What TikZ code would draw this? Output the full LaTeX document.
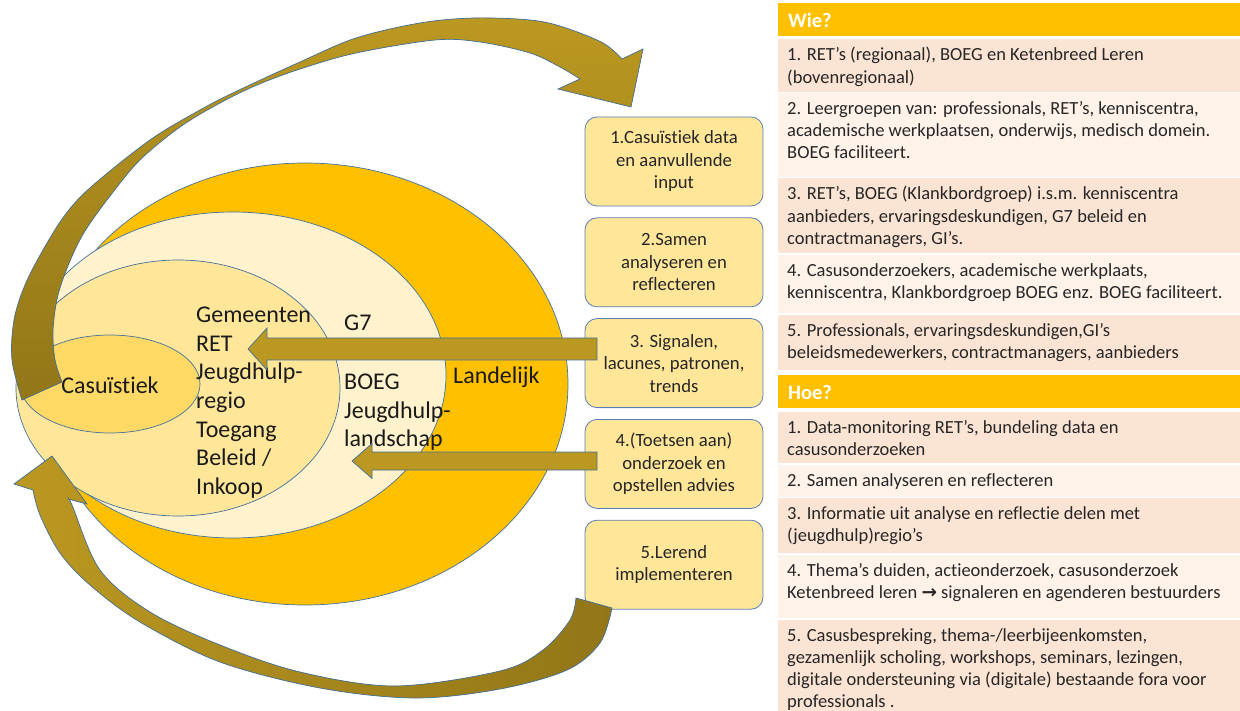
\documentclass[tikz,border=0pt]{standalone}
\usepackage{fontspec}
\setmainfont{Carlito}[Ligatures=NoCommon]
\newfontfamily\symfont{DejaVu Sans}
\usepackage{tikz}
\usetikzlibrary{positioning}

\definecolor{landelijk}{HTML}{FFC000}
\definecolor{boegfill}{HTML}{FFF2CC}
\definecolor{gemfill}{HTML}{FFE699}
\definecolor{casfill}{HTML}{FFD966}
\definecolor{arrowgold}{HTML}{BB9821}
\definecolor{arrowdark}{HTML}{927618}
\definecolor{edgeblue}{HTML}{41719C}
\definecolor{boxblue}{HTML}{5A7DB5}
\definecolor{rowdark}{HTML}{FBE4D3}
\definecolor{rowlight}{HTML}{FEF2E9}
\definecolor{inktext}{HTML}{1A1A1A}
\definecolor{tabletext}{HTML}{262626}

\begin{document}
\begin{tikzpicture}[
          x=1pt, y=-1pt,
          zone/.style={draw=edgeblue, line width=0.7pt},
          blockarrow/.style={draw=edgeblue, line width=0.7pt, fill=arrowgold},
          stepbox/.style={rectangle, rounded corners=12pt, draw=boxblue, line width=0.8pt,
            fill=gemfill, minimum width=178pt, minimum height=89pt, align=center,
            text=tabletext, font=\fontsize{18.7}{22.5}\selectfont},
          zonelabel/.style={inner sep=0pt, align=left, text=inktext, font=\fontsize{24}{28.6}\selectfont},
          rowtext/.style={anchor=north west, inner sep=0pt, align=left, text=tabletext,
            font=\fontsize{18.5}{22.3}\selectfont},
          headtext/.style={anchor=west, inner sep=0pt, text=white, font=\bfseries\fontsize{20.5}{24}\selectfont},
          node distance=11pt
        ]
        \useasboundingbox (0,0) rectangle (1240,711);
        \clip (0,0) rectangle (1240,711);

        % Zones
        \draw[zone, fill=landelijk] (305,384) ellipse [x radius=263pt, y radius=221pt];
        \draw[zone, fill=boegfill] (233,375) ellipse [x radius=213pt, y radius=163pt];
        \draw[zone, fill=gemfill] (178,388) ellipse [x radius=162pt, y radius=128pt];
        \draw[zone, fill=casfill] (110,384) ellipse [x radius=90pt, y radius=49pt];

        % Zone labels
        \node[zonelabel, anchor=base] (cas) at (110,393) {Casuïstiek};
        \node[zonelabel, anchor=north west] (gem) at (196,307) {Gemeenten\\RET\\Jeugdhulp-\\regio\\Toegang\\Beleid /\\Inkoop};
        \node[zonelabel, anchor=base west] (g7) at (344,331) {G7};
        \node[zonelabel, anchor=north west] (boeg) at (344,374) {BOEG\\Jeugdhulp-\\landschap};
        \node[zonelabel, anchor=base west] (land) at (453,383) {Landelijk};

        % Steps
        \node[stepbox] (b1) at (674,161.5) {1.Casuïstiek data\\en aanvullende\\input};
        \node[stepbox, below=of b1] (b2) {2.Samen\\analyseren en\\reflecteren};
        \node[stepbox, below=of b2] (b3) {3. Signalen,\\lacunes, patronen,\\trends};
        \node[stepbox, below=of b3] (b4) {4.(Toetsen aan)\\onderzoek en\\opstellen advies};
        \node[stepbox, below=of b4] (b5) {5.Lerend\\implementeren};

        % Arrows from steps 3 and 4 into the zones
        \coordinate (sig) at (597,349);
        \coordinate (adv) at (597,461);
        \draw[blockarrow] (sig) ++(0,-11) -- ++(-330,0) -- ++(0,-10) -- ++(-19,21)
          -- ++(19,21) -- ++(0,-10) -- ++(330,0) -- cycle;
        \draw[blockarrow] (adv) ++(0,-9) -- ++(-225,0) -- ++(0,-8.5) -- ++(-20,17.5)
          -- ++(20,17.5) -- ++(0,-8.5) -- ++(225,0) -- cycle;

        % Curved arrow up to step 1
        \draw[blockarrow, top color=arrowgold, bottom color=arrowdark]
          plot[smooth, tension=0.55] coordinates {(22,400) (12,360) (14,320) (25,285) (43,250)
            (65,215) (91,187) (150,140) (200,110) (237,91) (300,62) (356,38) (420,23)
            (474,18) (530,20) (563,27) (603,43) (622,59)}
          -- (643,49) -- (631,107) -- (558,89) --
          plot[smooth, tension=0.55] coordinates {(580,79) (560,67) (530,53) (480,42) (435,40)
            (356,53) (300,69) (257,85) (220,103) (180,127) (140,160) (110,196) (85,231)
            (70,261) (58,295) (53,330) (55,360) (62,382)}
          -- cycle;

        % Curved arrow from step 5 back to the centre
        \draw[blockarrow, left color=arrowgold, right color=arrowdark]
          plot[smooth, tension=0.55] coordinates {(612,608) (600,643) (567,670) (500,689)
            (415,698) (320,688) (220,662) (140,622) (90,585) (60,553) (40,515) (33,490)}
          -- (14,484) -- (52,456) -- (87,504) --
          plot[smooth, tension=0.55] coordinates {(68,499) (72,505) (100,570) (150,612)
            (220,645) (300,672) (395,686) (500,671) (543,650) (570,620) (576,598)}
          -- cycle;

        % Table: Wie? and Hoe?
        \fill[landelijk] (778,3) rectangle (1240,36);
        \fill[landelijk] (778,375) rectangle (1240,408);
        \foreach \ya/\yb/\c in {39/92/rowdark, 93/177/rowlight, 178/253/rowdark,
            255/313/rowlight, 315/370/rowdark, 412/463/rowdark, 465/497/rowlight,
            498/553/rowdark, 555/618/rowlight, 620/711/rowdark}
          \fill[\c] (778,\ya) rectangle (1240,\yb);

        \node[headtext] (wie) at (788,20) {Wie?};
        \node[rowtext] (wie1) at (787,47) {1. RET’s (regionaal), BOEG en Ketenbreed Leren\\(bovenregionaal)};
        \node[rowtext] (wie2) at (787,101) {2. Leergroepen van: professionals, RET’s, kenniscentra,\\academische werkplaatsen, onderwijs, medisch domein.\\BOEG faciliteert.};
        \node[rowtext] (wie3) at (787,186) {3. RET’s, BOEG (Klankbordgroep) i.s.m. kenniscentra\\aanbieders, ervaringsdeskundigen, G7 beleid en\\contractmanagers, GI’s.};
        \node[rowtext] (wie4) at (787,263) {4. Casusonderzoekers, academische werkplaats,\\kenniscentra, Klankbordgroep BOEG enz. BOEG faciliteert.};
        \node[rowtext] (wie5) at (787,323) {5. Professionals, ervaringsdeskundigen,GI’s\\beleidsmedewerkers, contractmanagers, aanbieders};

        \node[headtext] (hoe) at (788,392) {Hoe?};
        \node[rowtext] (hoe1) at (787,420) {1. Data-monitoring RET’s, bundeling data en\\casusonderzoeken};
        \node[rowtext] (hoe2) at (787,473) {2. Samen analyseren en reflecteren};
        \node[rowtext] (hoe3) at (787,506) {3. Informatie uit analyse en reflectie delen met\\(jeugdhulp)regio’s};
        \node[rowtext] (hoe4) at (787,563) {4. Thema’s duiden, actieonderzoek, casusonderzoek\\Ketenbreed leren {\symfont\bfseries →} signaleren en agenderen bestuurders};
        \node[rowtext] (hoe5) at (787,628) {5. Casusbespreking, thema-/leerbijeenkomsten,\\gezamenlijk scholing, workshops, seminars, lezingen,\\digitale ondersteuning via (digitale) bestaande fora voor\\professionals .};

      \end{tikzpicture}
\end{document}
